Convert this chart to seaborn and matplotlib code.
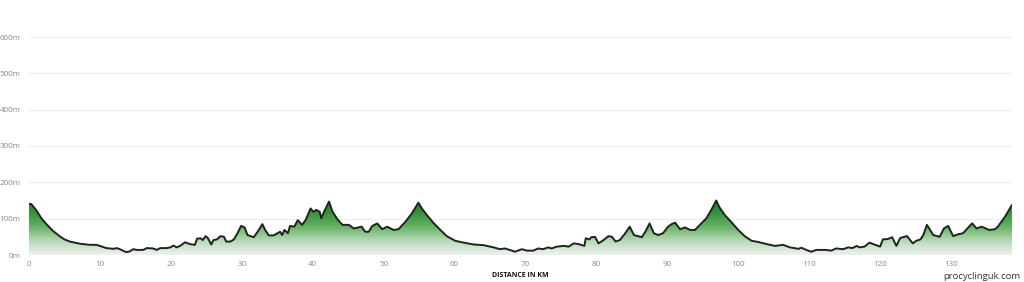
import numpy as np
import pandas as pd
import matplotlib
matplotlib.use("Agg")
import matplotlib.pyplot as plt
import seaborn as sns
from matplotlib.colors import LinearSegmentedColormap

distance_km = [0, 0.33, 1.0, 1.75, 2.45, 3.4, 4.3, 5.0, 5.75, 7.2, 8.6, 9.5, 10, 10.9, 11.9, 12.4, 12.8,
               13.7, 14.2, 14.7, 15.2, 16.1, 16.6, 17.5, 18.0, 18.5, 19.4, 19.9, 20.4, 20.8, 21.3, 22.0,
               22.7, 23.4, 23.7, 24.2, 24.5, 24.9, 25.2, 25.7, 26.0, 26.5, 27.0, 27.5, 27.8, 28.4, 28.9,
               29.4, 29.9, 30.4, 30.8, 31.7, 32.4, 32.9, 33.3, 33.8, 34.5, 35.4, 35.7, 36.0, 36.5, 36.8,
               37.4, 37.9, 38.5, 39.0, 39.7, 40.1, 40.5, 41.0, 41.2, 41.6, 42.3, 42.8, 43.5, 44.2, 45.1,
               45.8, 46.9, 47.4, 47.9, 48.4, 49.1, 49.8, 50.5, 51.4, 52.1, 53.1, 54.0, 54.9, 55.4, 56.1,
               57.0, 58.0, 58.9, 60.1, 61.3, 62.7, 64.1, 65.5, 66.4, 67.1, 68.1, 68.5, 69.5, 70.2, 71.1,
               71.8, 72.5, 73.2, 73.7, 74.4, 75.4, 76.1, 76.8, 77.5, 78.3, 78.5, 79.0, 79.3, 79.8, 80.3,
               81.0, 81.7, 82.2, 82.7, 83.3, 84.0, 84.7, 85.3, 86.4, 86.9, 87.5, 88.1, 88.7, 89.4, 90.1,
               90.6, 91.1, 91.8, 92.5, 93.2, 93.9, 94.6, 95.5, 96.2, 96.9, 97.3, 98.1, 99.1, 100, 100.9,
               101.9, 102.8, 104.0, 105.2, 106.3, 107.3, 108.5, 108.9, 109.6, 110.3, 111.0, 112.4, 113.1,
               113.8, 114.8, 115.5, 116.1, 116.7, 117.1, 117.8, 118.5, 119.2, 120.0, 120.4, 121.1, 121.7,
               122.3, 122.8, 123.2, 123.8, 124.6, 125.1, 125.7, 126.1, 126.6, 127.5, 128.4, 129.0, 129.6,
               130.3, 131.0, 131.7, 132.3, 133.0, 133.6, 134.3, 135.4, 136.2, 136.6, 137.6, 138.6]
elevation_m = [141, 140, 124, 101, 85, 66, 52, 43, 37, 31, 28, 28, 25, 19, 17, 19, 16,
               8, 10, 16, 14, 14, 19, 18, 14, 19, 19, 21, 26, 21, 25, 35,
               30, 28, 45, 46, 41, 52, 47, 29, 41, 43, 52, 50, 37, 37, 43,
               60, 80, 76, 55, 49, 69, 85, 69, 54, 54, 64, 55, 69, 60, 80,
               78, 96, 83, 96, 128, 119, 124, 119, 101, 119, 147, 119, 98, 83, 83,
               73, 78, 64, 64, 80, 87, 71, 78, 69, 71, 92, 115, 144, 128, 110,
               89, 69, 52, 39, 34, 29, 27, 21, 16, 18, 12, 9, 16, 12, 12,
               18, 16, 21, 18, 23, 25, 23, 32, 30, 25, 46, 43, 49, 50, 32,
               41, 52, 50, 37, 41, 58, 78, 55, 49, 64, 87, 60, 55, 60, 78,
               85, 89, 71, 76, 69, 69, 83, 101, 124, 150, 133, 110, 89, 69, 52,
               39, 36, 30, 25, 28, 21, 17, 20, 14, 9, 14, 14, 12,
               18, 16, 21, 19, 25, 21, 23, 34, 29, 23, 43, 44, 49,
               25, 46, 49, 52, 32, 39, 43, 55, 83, 55, 50, 73, 80,
               52, 57, 60, 73, 87, 73, 78, 69, 71, 78, 105, 138]

y_ticks = [0, 100, 200, 300, 400, 500, 600]
y_tick_labels = ["0m", "100m", "200m", "300m", "400m", "500m", "600m"]
x_ticks = [0, 10, 20, 30, 40, 50, 60, 70, 80, 90, 100, 110, 120, 130]

df = pd.DataFrame({"km": distance_km, "m": elevation_m})

sns.set_theme(style="white")
plt.rcParams["font.family"] = ["Open Sans", "DejaVu Sans"]

fig = plt.figure(figsize=(10.24, 2.82), dpi=100)
ax = fig.add_axes([29 / 1024, 1 - 255 / 282, (1012 - 29) / 1024, (255 - 37) / 282])

xmax = df["km"].max()
ax.set_xlim(0, xmax)
ax.set_ylim(0, 600)

# gradient fill clipped to area
poly = ax.fill_between(df["km"], df["m"], 0, color="none", lw=0)
cmap = LinearSegmentedColormap.from_list("g", ["#f0f1f0", "#b7dab7", "#66b266", "#35903a", "#237a23"])
grad = np.linspace(0, 1, 256).reshape(-1, 1)
im = ax.imshow(grad, cmap=cmap, aspect="auto", origin="lower",
               extent=[0, xmax, 0, 155], zorder=1)
im.set_clip_path(poly.get_paths()[0], transform=ax.transData)

sns.lineplot(data=df, x="km", y="m", ax=ax, color="#1e241e", lw=1.4, zorder=3)

ax.set_yticks(y_ticks)
ax.set_yticklabels(y_tick_labels)
ax.set_xticks(x_ticks)
ax.tick_params(axis="both", labelsize=5.8, colors="#8a8a8a", length=0)
ax.tick_params(axis="y", pad=6)
ax.tick_params(axis="x", pad=4)
ax.grid(axis="y", color="#eeeeee", lw=0.8, zorder=0)
ax.set_axisbelow(True)
for s in ax.spines.values():
    s.set_visible(False)
ax.axhline(0, color="#dddddd", lw=0.8, zorder=0)

ax.set_xlabel("DISTANCE IN KM", fontsize=5, fontweight="bold", color="#111111", labelpad=3)
ax.set_ylabel("")

fig.text(1020 / 1024, 1 - 276.5 / 282, "procyclinguk.com", ha="right", va="center",
         fontsize=6.8, color="#333333")

fig.savefig("out.png", dpi=100, facecolor="white")
